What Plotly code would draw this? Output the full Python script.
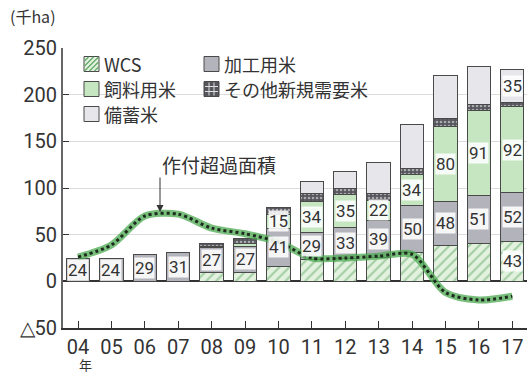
import plotly.graph_objects as go

# Area by use (thousand ha), by crop year
years = ["04", "05", "06", "07", "08", "09", "10", "11", "12", "13", "14", "15", "16", "17"]
wcs = [0, 0, 0, 0, 9, 10, 16, 23, 25, 26, 31, 38, 41, 43]
kakou = [24, 24, 29, 31, 27, 27, 41, 29, 33, 39, 50, 48, 51, 52]
shiryo = [0, 0, 0, 0, 1, 4, 15, 34, 35, 22, 34, 80, 91, 92]
sonota = [0, 0, 0, 0, 4, 5, 7, 8, 7, 7, 6, 8, 6, 5]
bichiku = [0, 0, 0, 0, 0, 0, 0, 13, 18, 33, 47, 47, 41, 35]
# Over-planted area (negative = below target)
excess = [26, 39, 70, 72, 57, 51, 42, 25, 25, 27, 29, -12, -20, -16]

y_ticks = [-50, 0, 50, 100, 150, 200, 250]
y_tick_text = ["△50", "0", "50", "100", "150", "200", "250"]

# Which segments carry a value label
labeled = {
    "wcs": [13],
    "kakou": list(range(14)),
    "shiryo": list(range(6, 14)),
    "bichiku": [13],
}

NUM_FONT = "Roboto, sans-serif"
JP_FONT = "Noto Sans CJK JP, sans-serif"
EDGE = "#4a4a4a"
INK = "#333333"

W, H = 527, 375
ML, MR, MT, MB = 63, 0, 48, 47
PW, PH = W - ML - MR, H - MT - MB


def px(x):
    return (x - ML) / PW


def py(y):
    return (H - MB - y) / PH


def nz(vals):
    return [v if v else None for v in vals]


x = list(range(len(years)))
series = [
    ("WCS", "wcs", wcs, dict(color="#e3f2df", pattern=dict(shape="/", fgcolor="#62a868", bgcolor="#e3f2df", size=7, solidity=0.3))),
    ("加工用米", "kakou", kakou, dict(color="#b3b3bb")),
    ("飼料用米", "shiryo", shiryo, dict(color="#c6e6c1")),
    ("その他新規需要米", "sonota", sonota, dict(color="#55555c", pattern=dict(shape=".", fgcolor="#ffffff", bgcolor="#55555c", size=4, solidity=0.35))),
    ("備蓄米", "bichiku", bichiku, dict(color="#e7e7eb")),
]

fig = go.Figure()
for name, key, vals, mk in series:
    fig.add_trace(go.Bar(
        x=x, y=nz(vals), name=name, width=0.7,
        marker=dict(line=dict(color=EDGE, width=1), **mk),
        showlegend=False, hoverinfo="skip",
    ))

# Over-planted area line: soft green halo under a dotted dark line
fig.add_trace(go.Scatter(
    x=x, y=excess, mode="lines", line=dict(color="rgba(76,170,80,0.75)", width=7, shape="spline", smoothing=0.8),
    showlegend=False, hoverinfo="skip",
))
fig.add_trace(go.Scatter(
    x=x, y=excess, mode="lines", line=dict(color="#1d2a1d", width=3, dash="dot", shape="spline", smoothing=0.8),
    showlegend=False, hoverinfo="skip",
))

# Value labels on stacked segments
annotations = []
base = [0] * len(years)
for name, key, vals, mk in series:
    for i, v in enumerate(vals):
        if key in labeled and i in labeled[key] and v:
            annotations.append(dict(
                x=i, y=base[i] + v / 2, xref="x", yref="y", text=str(v), showarrow=False,
                font=dict(family=NUM_FONT, size=17, color=INK),
                bgcolor="rgba(255,255,255,0.88)", borderpad=0,
            ))
        base[i] += v

# Line callout
annotations.append(dict(
    x=px(160), y=py(212), xref="paper", yref="paper", ax=0, ay=-36,
    text="", showarrow=True, arrowhead=2, arrowsize=1.4, arrowwidth=1, arrowcolor=INK,
))
annotations.append(dict(
    x=px(160), y=py(164), xref="paper", yref="paper", text="作付超過面積", showarrow=False,
    font=dict(family=JP_FONT, size=19, color=INK),
))

# Unit and year labels
annotations.append(dict(
    x=px(8), y=py(2), xref="paper", yref="paper", text="(千ha)", showarrow=False,
    xanchor="left", yanchor="top", font=dict(family=JP_FONT, size=16, color=INK),
))
annotations.append(dict(
    x=px(78), y=py(375), xref="paper", yref="paper", text="年", showarrow=False,
    yanchor="bottom", borderpad=0, font=dict(family=JP_FONT, size=13, color=INK),
))

# Legend drawn by hand in two columns
shapes = []
legend_items = [
    ("WCS", "wcs", 84, 64),
    ("加工用米", "kakou", 204, 64),
    ("飼料用米", "shiryo", 84, 89),
    ("その他新規需要米", "sonota", 204, 89),
    ("備蓄米", "bichiku", 84, 114),
]
fills = {"wcs": "#e3f2df", "kakou": "#b3b3bb", "shiryo": "#c6e6c1", "sonota": "#55555c", "bichiku": "#e7e7eb"}
S = 15


def seg(xa, ya, xb, yb, color, width):
    return dict(type="line", xref="paper", yref="paper", x0=px(xa), y0=py(ya), x1=px(xb), y1=py(yb),
                line=dict(color=color, width=width))


for label, key, lx, ly in legend_items:
    x0, x1, y0, y1 = lx, lx + S, ly - S / 2, ly + S / 2
    shapes.append(dict(type="rect", xref="paper", yref="paper", x0=px(x0), x1=px(x1), y0=py(y1), y1=py(y0),
                       fillcolor=fills[key], line=dict(color=EDGE, width=1)))
    if key == "wcs":
        for k in (5, 10, 15, 20, 25):
            if k <= S:
                shapes.append(seg(x0 + 0.5, y0 + k - 0.5, x0 + k - 0.5, y0 + 0.5, "#62a868", 1.2))
            else:
                shapes.append(seg(x0 + k - S + 0.5, y1 - 0.5, x1 - 0.5, y0 + k - S + 0.5, "#62a868", 1.2))
    if key == "sonota":
        for k in (5, 10):
            shapes.append(seg(x0 + k, y0 + 1, x0 + k, y1 - 1, "#e0e0e0", 1))
            shapes.append(seg(x0 + 1, y0 + k, x1 - 1, y0 + k, "#e0e0e0", 1))
    annotations.append(dict(
        x=px(x1 + 3), y=py(ly), xref="paper", yref="paper", text=label, showarrow=False,
        xanchor="left", yanchor="middle", font=dict(family=JP_FONT, size=18, color=INK),
    ))

fig.update_layout(
    width=W, height=H, margin=dict(l=ML, r=MR, t=MT, b=MB),
    barmode="stack", bargap=0.3,
    plot_bgcolor="white", paper_bgcolor="white",
    annotations=annotations, shapes=shapes,
    xaxis=dict(
        range=[-0.45, 13.44], tickvals=x, ticktext=years, showgrid=False,
        showline=True, linecolor=INK, linewidth=1.5,
        ticks="inside", ticklen=7, tickcolor=INK,
        tickfont=dict(family=NUM_FONT, size=20, color=INK), zeroline=False,
    ),
    yaxis=dict(
        range=[-50, 250], tickvals=y_ticks, ticktext=y_tick_text,
        showgrid=True, gridcolor="#dcdcdc", gridwidth=1,
        showline=True, linecolor="#666666", linewidth=2,
        ticks="inside", ticklen=6, tickcolor=INK,
        zeroline=True, zerolinecolor=INK, zerolinewidth=1.5,
        tickfont=dict(family=NUM_FONT, size=20, color=INK),
    ),
)

fig.write_html("out.html")
